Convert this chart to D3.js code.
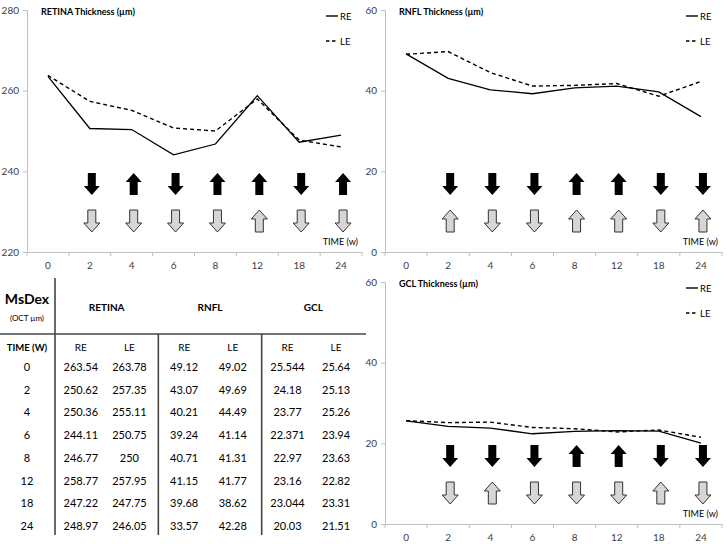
<!DOCTYPE html>
<html><head><meta charset="utf-8">
<script src="https://cdn.jsdelivr.net/npm/d3@7"></script>
<style>body{margin:0;background:#fff}svg{display:block;font-family:Lato,'Open Sans',sans-serif}</style>
</head><body><svg id="c" width="727" height="544"></svg>
<script>
// ---- data ----
const weeks = ["0","2","4","6","8","12","18","24"];
const retinaRE = [263.54,250.62,250.36,244.11,246.77,258.77,247.22,248.97];
const retinaLE = [263.78,257.35,255.11,250.75,250,257.95,247.75,246.05];
const rnflRE = [49.12,43.07,40.21,39.24,40.71,41.15,39.68,33.57];
const rnflLE = [49.02,49.69,44.49,41.14,41.31,41.77,38.62,42.28];
const gclRE = [25.544,24.18,23.77,22.371,22.97,23.16,23.044,20.03];
const gclLE = [25.64,25.13,25.26,23.94,23.63,22.82,23.31,21.51];
const arrowWeeks = ["2","4","6","8","12","18","24"];
const retinaArrRE = ["down","up","down","up","up","down","up"];
const retinaArrLE = ["down","down","down","down","up","down","down"];
const rnflArrRE = ["down","down","down","up","up","down","down"];
const rnflArrLE = ["up","down","down","up","up","down","up"];
const gclArrRE = ["down","down","down","up","up","down","down"];
const gclArrLE = ["down","up","down","down","down","up","down"];
const retinaTicks = [220,240,260,280];
const layerTicks = [0,20,40,60];
const titles = ["RETINA Thickness (µm)","RNFL Thickness (µm)","GCL Thickness (µm)"];
const legendLabels = ["RE","LE"];
const xAxisTitle = "TIME (w)";
const tableGroups = ["RETINA","RNFL","GCL"];

const svg = d3.select("#c");

const panels = [
  {title:titles[0], re:retinaRE, le:retinaLE, ticks:retinaTicks, domain:[220,280], x:[27,362], y:[252,10], aRE:retinaArrRE, aLE:retinaArrLE},
  {title:titles[1], re:rnflRE, le:rnflLE, ticks:layerTicks, domain:[0,60], x:[385,722], y:[252,10], aRE:rnflArrRE, aLE:rnflArrLE},
  {title:titles[2], re:gclRE, le:gclLE, ticks:layerTicks, domain:[0,60], x:[385,722], y:[524,282], aRE:gclArrRE, aLE:gclArrLE}
];

function arrowPath(dir){
  const s = dir==="down"?1:-1;
  const pts = [[-4,-11],[4,-11],[4,2],[8,2],[0,11],[-8,2],[-4,2]].map(p=>[p[0],p[1]*s]);
  return "M"+pts.map(p=>p.join(",")).join("L")+"Z";
}

panels.forEach(p=>{
  const x = d3.scaleBand().domain(weeks).range(p.x).padding(0);
  const y = d3.scaleLinear().domain(p.domain).range(p.y);
  const bw = x.bandwidth();
  const g = svg.append("g");

  // y axis
  const ya = g.append("g").attr("transform",`translate(${p.x[0]},0)`)
    .call(d3.axisLeft(y).tickValues(p.ticks).tickSize(4).tickPadding(4));
  ya.select(".domain").attr("stroke","#bfbfbf");
  ya.selectAll(".tick line").attr("stroke","#bfbfbf");
  ya.selectAll(".tick text").attr("fill","#404040").style("font-size","10px").style("font-family","Lato");

  // x axis
  const xa = g.append("g").attr("transform",`translate(0,${p.y[0]})`)
    .call(d3.axisBottom(x).tickSize(0).tickPadding(10));
  xa.select(".domain").attr("stroke","#bfbfbf");
  xa.selectAll(".tick text").attr("fill","#404040").style("font-size","10px").style("font-family","Lato");
  xa.selectAll(".bnd").data(weeks.concat([""])).enter().append("line")
    .attr("x1",(d,i)=>p.x[0]+i*bw).attr("x2",(d,i)=>p.x[0]+i*bw)
    .attr("y1",0).attr("y2",4).attr("stroke","#bfbfbf");

  // lines
  const line = d3.line().x((d,i)=>x(weeks[i])+bw/2).y(d=>y(d));
  g.append("path").attr("d",line(p.re)).attr("fill","none").attr("stroke","#000").attr("stroke-width",1.3);
  g.append("path").attr("d",line(p.le)).attr("fill","none").attr("stroke","#000").attr("stroke-width",1.4).attr("stroke-dasharray","4,3");

  // title
  g.append("text").attr("x",p.x[0]+14).attr("y",p.y[1]+5).text(p.title)
    .style("font-weight","bold").style("font-size","9px").attr("fill","#000");

  // legend
  const lx = p.x[1]-36;
  [0,1].forEach(i=>{
    const ly = p.y[1]+6+i*25;
    g.append("line").attr("x1",lx).attr("x2",lx+12).attr("y1",ly).attr("y2",ly)
      .attr("stroke","#000").attr("stroke-width",1.4).attr("stroke-dasharray",i?"3.5,2.5":null);
    g.append("text").attr("x",lx+14).attr("y",ly+3.5).text(legendLabels[i])
      .style("font-size","9.5px").attr("fill","#000");
  });

  // TIME label
  g.append("text").attr("x",p.x[1]-4).attr("y",p.y[0]-7).attr("text-anchor","end")
    .text(xAxisTitle).style("font-size","9px").attr("fill","#000");

  // arrows
  const rowRE = p.y[0]-68, rowLE = p.y[0]-31;
  g.selectAll(".are").data(p.aRE).enter().append("path")
    .attr("transform",(d,i)=>`translate(${x(arrowWeeks[i])+bw/2+2},${rowRE})`)
    .attr("d",d=>arrowPath(d)).attr("fill","#000");
  g.selectAll(".ale").data(p.aLE).enter().append("path")
    .attr("transform",(d,i)=>`translate(${x(arrowWeeks[i])+bw/2+2},${rowLE})`)
    .attr("d",d=>arrowPath(d)).attr("fill","#d6d6d6").attr("stroke","#333").attr("stroke-width",1);
});

// ---- table ----
const t = svg.append("g").style("font-family","Lato");
const gx = d3.scaleBand().domain(tableGroups).range([55,365]);
const sub = d3.scalePoint().domain(legendLabels).range([gx.bandwidth()*0.25, gx.bandwidth()*0.72]);
const ry = d3.scalePoint().domain(weeks).range([367,526]);
const tableCols = [[retinaRE,retinaLE],[rnflRE,rnflLE],[gclRE,gclLE]];

t.append("line").attr("x1",0).attr("x2",366).attr("y1",334).attr("y2",334).attr("stroke","#444").attr("stroke-width",1.6);
t.append("line").attr("x1",55).attr("x2",55).attr("y1",278).attr("y2",535).attr("stroke","#444").attr("stroke-width",1.6);
tableGroups.slice(1).forEach(gn=>{
  t.append("line").attr("x1",gx(gn)).attr("x2",gx(gn)).attr("y1",334).attr("y2",535).attr("stroke","#444").attr("stroke-width",1.6);
});
t.append("text").attr("x",27).attr("y",304).attr("text-anchor","middle").text("MsDex").style("font-weight","bold").style("font-size","14px");
t.append("text").attr("x",27).attr("y",321).attr("text-anchor","middle").text("(OCT µm)").style("font-size","8px");
t.append("text").attr("x",27).attr("y",351).attr("text-anchor","middle").text("TIME (W)").style("font-weight","bold").style("font-size","9.5px");
tableGroups.forEach((gn,gi)=>{
  t.append("text").attr("x",gx(gn)+gx.bandwidth()/2).attr("y",311).attr("text-anchor","middle").text(gn).style("font-weight","bold").style("font-size","10px");
  legendLabels.forEach((ln,li)=>{
    const cx = gx(gn)+sub(ln);
    t.append("text").attr("x",cx).attr("y",351).attr("text-anchor","middle").text(ln).style("font-size","10px");
    t.selectAll(null).data(tableCols[gi][li]).enter().append("text")
      .attr("x",cx).attr("y",(d,i)=>ry(weeks[i])+4).attr("text-anchor","middle")
      .text(d=>String(d)).style("font-size","11px");
  });
});
t.selectAll(".rl").data(weeks).enter().append("text")
  .attr("x",27).attr("y",d=>ry(d)+4).attr("text-anchor","middle").text(d=>d).style("font-size","11px");
</script></body></html>
